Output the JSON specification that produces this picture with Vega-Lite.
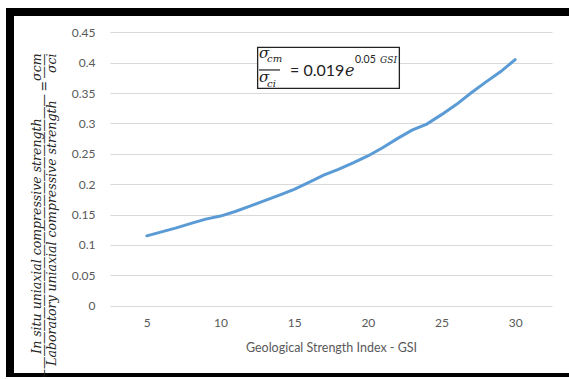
{
  "$schema": "https://vega.github.io/schema/vega-lite/v6.json",
  "width": 572,
  "height": 365,
  "autosize": {"type": "none"},
  "padding": {"left": 10, "top": 12, "right": 0, "bottom": 0},
  "background": "white",
  "config": {"view": {"fill": "white", "stroke": "black", "strokeWidth": 8}},
  "datasets": {
    "series": [
      {"GSI": 5, "ratio": 0.115}, {"GSI": 6, "ratio": 0.1215}, {"GSI": 7, "ratio": 0.128},
      {"GSI": 8, "ratio": 0.1355}, {"GSI": 9, "ratio": 0.1425}, {"GSI": 10, "ratio": 0.1475},
      {"GSI": 11, "ratio": 0.155}, {"GSI": 12, "ratio": 0.164}, {"GSI": 13, "ratio": 0.173},
      {"GSI": 14, "ratio": 0.182}, {"GSI": 15, "ratio": 0.1915}, {"GSI": 16, "ratio": 0.203},
      {"GSI": 17, "ratio": 0.215}, {"GSI": 18, "ratio": 0.2245}, {"GSI": 19, "ratio": 0.235},
      {"GSI": 20, "ratio": 0.2465}, {"GSI": 21, "ratio": 0.26}, {"GSI": 22, "ratio": 0.275},
      {"GSI": 23, "ratio": 0.289}, {"GSI": 24, "ratio": 0.299}, {"GSI": 25, "ratio": 0.3145},
      {"GSI": 26, "ratio": 0.331}, {"GSI": 27, "ratio": 0.35}, {"GSI": 28, "ratio": 0.368},
      {"GSI": 29, "ratio": 0.385}, {"GSI": 30, "ratio": 0.405}
    ],
    "box": [{"x1": 12.52, "x2": 22.14, "y1": 0.3578, "y2": 0.4253}],
    "bar": [{"x1": 12.61, "x2": 14.04, "y": 0.388}],
    "sig": [{"x": 12.61, "y": 0.4077, "t": "σ"}, {"x": 12.61, "y": 0.3682, "t": "σ"}],
    "sub": [{"x": 13.16, "y": 0.4011, "t": "cm"}, {"x": 13.16, "y": 0.36, "t": "ci"}],
    "coef": [{"x": 14.72, "y": 0.378, "t": "= 0.019"}],
    "e": [{"x": 18.45, "y": 0.378, "t": "e"}],
    "exp": [{"x": 19.13, "y": 0.3994, "t": "0.05"}],
    "gsi": [{"x": 20.83, "y": 0.3994, "t": "GSI"}]
  },
  "layer": [
    {
      "data": {"name": "series"},
      "mark": {"type": "line", "color": "#5B9BD5", "strokeWidth": 3, "strokeCap": "round"},
      "encoding": {
        "x": {
          "field": "GSI", "type": "quantitative",
          "scale": {"domain": [2.5, 32.5], "range": [100, 542], "nice": false, "zero": false},
          "axis": {
            "values": [5, 10, 15, 20, 25, 30], "format": "d", "grid": false, "domain": false, "ticks": false,
            "labelFont": "Lato", "labelFontSize": 12, "labelColor": "#595959", "labelPadding": 12,
            "offset": -71.3,
            "title": "Geological Strength Index - GSI", "titleFont": "Lato", "titleFontSize": 12.5,
            "titleFontWeight": "normal", "titleColor": "#595959", "titlePadding": 13
          }
        },
        "y": {
          "field": "ratio", "type": "quantitative",
          "scale": {"domain": [0, 0.45], "range": [293.7, 20.3], "nice": false, "zero": false},
          "axis": {
            "values": [0, 0.05, 0.1, 0.15, 0.2, 0.25, 0.3, 0.35, 0.4, 0.45], "format": "~g",
            "grid": true, "gridColor": "#d9d9d9", "gridWidth": 1, "domain": false, "ticks": false,
            "labelFont": "Lato", "labelFontSize": 12, "labelColor": "#595959", "labelPadding": 15,
            "offset": -100,
            "title": [
              "In situ uniaxial compressive strength\u2003\u2003\u2003σcm",
              "———————————————————————\u2009=\u2009——",
              "Laboratory uniaxial compressive strength\u2003\u2003\u2009σci"
            ],
            "titleFont": "DejaVu Serif", "titleFontStyle": "italic", "titleFontWeight": "normal",
            "titleFontSize": 12.5, "titleColor": "#222222", "titleLineHeight": 7.5,
            "titleAngle": 270, "titleAlign": "right", "titleBaseline": "middle",
            "titleX": -74, "titleY": 41
          }
        }
      }
    },
    {
      "data": {"name": "box"},
      "mark": {"type": "rect", "fill": "white", "stroke": "#222222", "strokeWidth": 1.3},
      "encoding": {
        "x": {"field": "x1", "type": "quantitative"},
        "x2": {"field": "x2"},
        "y": {"field": "y1", "type": "quantitative"},
        "y2": {"field": "y2"}
      }
    },
    {
      "data": {"name": "bar"},
      "mark": {"type": "rule", "stroke": "#222222", "strokeWidth": 1.2},
      "encoding": {
        "x": {"field": "x1", "type": "quantitative"},
        "x2": {"field": "x2"},
        "y": {"field": "y", "type": "quantitative"}
      }
    },
    {
      "data": {"name": "sig"},
      "mark": {"type": "text", "align": "left", "baseline": "alphabetic", "font": "DejaVu Serif", "fontStyle": "italic", "fontSize": 15, "color": "#222222"},
      "encoding": {
        "x": {"field": "x", "type": "quantitative"},
        "y": {"field": "y", "type": "quantitative"},
        "text": {"field": "t"}
      }
    },
    {
      "data": {"name": "sub"},
      "mark": {"type": "text", "align": "left", "baseline": "alphabetic", "font": "DejaVu Serif", "fontStyle": "italic", "fontSize": 10, "color": "#222222"},
      "encoding": {
        "x": {"field": "x", "type": "quantitative"},
        "y": {"field": "y", "type": "quantitative"},
        "text": {"field": "t"}
      }
    },
    {
      "data": {"name": "coef"},
      "mark": {"type": "text", "align": "left", "baseline": "alphabetic", "font": "Lato", "fontSize": 16, "color": "#222222"},
      "encoding": {
        "x": {"field": "x", "type": "quantitative"},
        "y": {"field": "y", "type": "quantitative"},
        "text": {"field": "t"}
      }
    },
    {
      "data": {"name": "e"},
      "mark": {"type": "text", "align": "left", "baseline": "alphabetic", "font": "DejaVu Serif", "fontStyle": "italic", "fontSize": 16, "color": "#222222"},
      "encoding": {
        "x": {"field": "x", "type": "quantitative"},
        "y": {"field": "y", "type": "quantitative"},
        "text": {"field": "t"}
      }
    },
    {
      "data": {"name": "exp"},
      "mark": {"type": "text", "align": "left", "baseline": "alphabetic", "font": "Lato", "fontSize": 10.5, "color": "#222222"},
      "encoding": {
        "x": {"field": "x", "type": "quantitative"},
        "y": {"field": "y", "type": "quantitative"},
        "text": {"field": "t"}
      }
    },
    {
      "data": {"name": "gsi"},
      "mark": {"type": "text", "align": "left", "baseline": "alphabetic", "font": "DejaVu Serif", "fontStyle": "italic", "fontSize": 9, "color": "#222222"},
      "encoding": {
        "x": {"field": "x", "type": "quantitative"},
        "y": {"field": "y", "type": "quantitative"},
        "text": {"field": "t"}
      }
    }
  ]
}
